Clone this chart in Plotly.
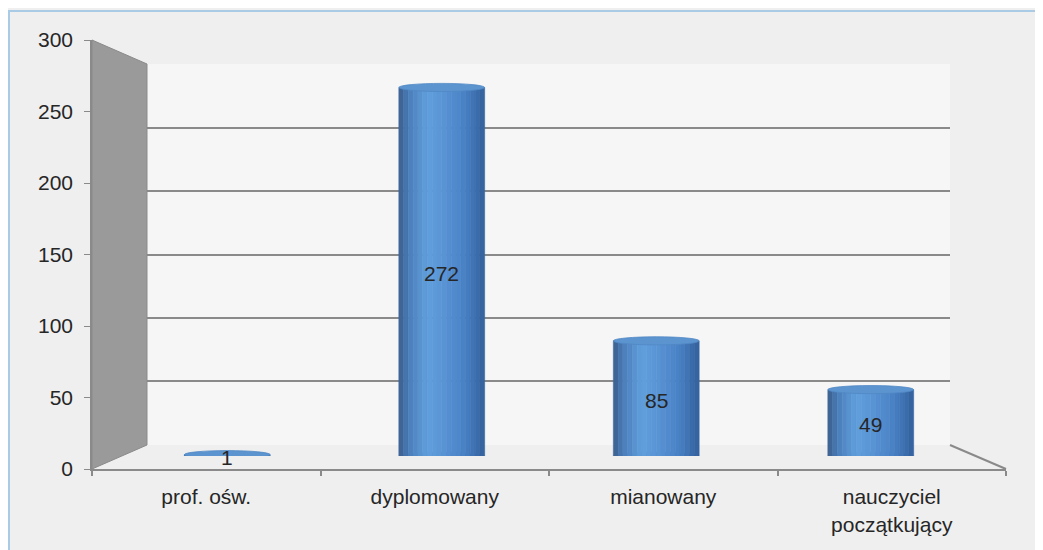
import plotly.graph_objects as go

# ---- data ----
categories = ["prof. ośw.", "dyplomowany", "mianowany", "nauczyciel<br>początkujący"]
values = [1, 272, 85, 49]
y_ticks = [0, 50, 100, 150, 200, 250, 300]

# ---- geometry (pixels in the 1043x550 picture; page body is offset by 8px) ----
W, H = 1043, 550
OX, OY = 8, 8
def px(x): return (x - OX) / W
def py(y): return 1 - (y - OY) / H

front_x = (92, 1006); front_y = (469, 40)     # y=0 at 469, 300 at 40
back_x = (147, 950);  back_y = (445, 64)
bar_x = (120, 978);   bar_y = (456, 49.5)

FONT = "Liberation Sans, Arial, sans-serif"
TXT = "#262626"
GRID = "#8a8a8a"
FS = 21

fig = go.Figure()

fig.add_trace(go.Scatter(x=[], y=[], xaxis="x", yaxis="y", showlegend=False, hoverinfo="skip"))
fig.add_trace(go.Scatter(x=[], y=[], xaxis="x2", yaxis="y2", showlegend=False, hoverinfo="skip"))

stops = [(0.0, (60, 94, 140)), (0.12, (74, 126, 186)), (0.33, (96, 158, 220)),
         (0.5, (90, 150, 214)), (0.78, (72, 128, 196)), (1.0, (50, 96, 156))]
def grad(t):
    for (t0, c0), (t1, c1) in zip(stops[:-1], stops[1:]):
        if t0 <= t <= t1:
            f = (t - t0) / (t1 - t0)
            return "rgb(%d,%d,%d)" % tuple(round(a + (b - a) * f) for a, b in zip(c0, c1))
    return "rgb(%d,%d,%d)" % stops[-1][1]

N = 18
bw = 0.40
xs = list(range(len(categories)))
for j in range(N):
    c = grad((j + 0.5) / N)
    fig.add_trace(go.Bar(
        x=xs, y=values, base=0, width=bw / N, offset=-bw / 2 + j * bw / N,
        marker=dict(color=c, line=dict(color=c, width=0.6)),
        xaxis="x3", yaxis="y3", showlegend=False, hoverinfo="skip"))

annotations = [dict(x=i, y=v / 2, xref="x3", yref="y3", text=str(v), showarrow=False,
                    font=dict(family=FONT, size=FS, color=TXT), yshift=-2)
               for i, v in zip(xs, values)]

shapes = []
shapes.append(dict(type="rect", xref="paper", yref="paper", layer="below",
                   x0=px(back_x[0]), x1=px(back_x[1]), y0=py(back_y[0]), y1=py(back_y[1]),
                   fillcolor="#f6f6f6", line=dict(width=0)))
shapes.append(dict(type="path", xref="paper", yref="paper", layer="below",
                   path="M %f %f L %f %f L %f %f L %f %f Z" % (
                       px(front_x[0]), py(front_y[1]), px(back_x[0]), py(back_y[1]),
                       px(back_x[0]), py(back_y[0]), px(front_x[0]), py(front_y[0])),
                   fillcolor="#9a9a9a", line=dict(color="#8a8a8a", width=1)))
shapes.append(dict(type="line", xref="paper", yref="paper", layer="below",
                   x0=px(back_x[1]), y0=py(back_y[0]), x1=px(front_x[1]), y1=py(front_y[0]),
                   line=dict(color=GRID, width=2)))
shapes.append(dict(type="line", xref="paper", yref="paper", x0=px(8), x1=1, y0=py(11), y1=py(11),
                   line=dict(color="#a9cbe6", width=2)))
shapes.append(dict(type="line", xref="paper", yref="paper", x0=1 / W, x1=1 / W, y0=py(11), y1=0,
                   line=dict(color="#a9cbe6", width=2)))

cap = 3.0
for i, v in zip(xs, values):
    shapes.append(dict(type="circle", xref="x3", yref="y3", layer="below",
                       x0=i - bw / 2, x1=i + bw / 2, y0=-cap, y1=cap,
                       fillcolor="#4a80bd", line=dict(width=0)))
    shapes.append(dict(type="circle", xref="x3", yref="y3", layer="above",
                       x0=i - bw / 2, x1=i + bw / 2, y0=v - cap, y1=v + cap,
                       fillcolor="#5b94cf", line=dict(color="#5088c4", width=0.8)))

fig.update_layout(
    template="none",
    width=W, height=H, autosize=False,
    margin=dict(l=0, r=0, t=0, b=0, pad=0, autoexpand=False),
    paper_bgcolor="#efefef", plot_bgcolor="rgba(0,0,0,0)",
    font=dict(family=FONT, size=FS, color=TXT),
    barmode="overlay",
    shapes=shapes,
    annotations=annotations,
    xaxis=dict(domain=[px(front_x[0]), px(front_x[1])], anchor="y", automargin=False,
               type="category", categoryorder="array", categoryarray=categories,
               tickvals=categories, ticktext=categories,
               range=[-0.5, len(categories) - 0.5], tickson="boundaries",
               ticks="outside", ticklen=5, tickcolor=GRID, tickwidth=1.5,
               showline=True, linecolor=GRID, linewidth=2, showgrid=False,
               ticklabelstandoff=8, fixedrange=True),
    yaxis=dict(domain=[py(front_y[0]), py(front_y[1])], anchor="x", automargin=False,
               range=[0, 300], tickvals=y_ticks, ticks="outside", ticklen=6,
               tickcolor=GRID, showline=True, linecolor=GRID, linewidth=1.5,
               showgrid=False, zeroline=False, ticklabelstandoff=7),
    xaxis2=dict(domain=[px(back_x[0]), px(back_x[1])], anchor="y2", range=[0, 1],
                visible=False, automargin=False),
    yaxis2=dict(domain=[py(back_y[0]), py(back_y[1])], anchor="x2", range=[-0.01, 300.01],
                tickvals=y_ticks, showticklabels=False, showgrid=True, gridcolor=GRID,
                gridwidth=2, zeroline=False, showline=False, ticks="", automargin=False),
    xaxis3=dict(domain=[px(bar_x[0]), px(bar_x[1])], anchor="y3",
                range=[-0.5, len(categories) - 0.5], visible=False, automargin=False),
    yaxis3=dict(domain=[py(bar_y[0]), py(bar_y[1])], anchor="x3", range=[0, 300],
                visible=False, automargin=False),
)

fig.write_html("out.html")
